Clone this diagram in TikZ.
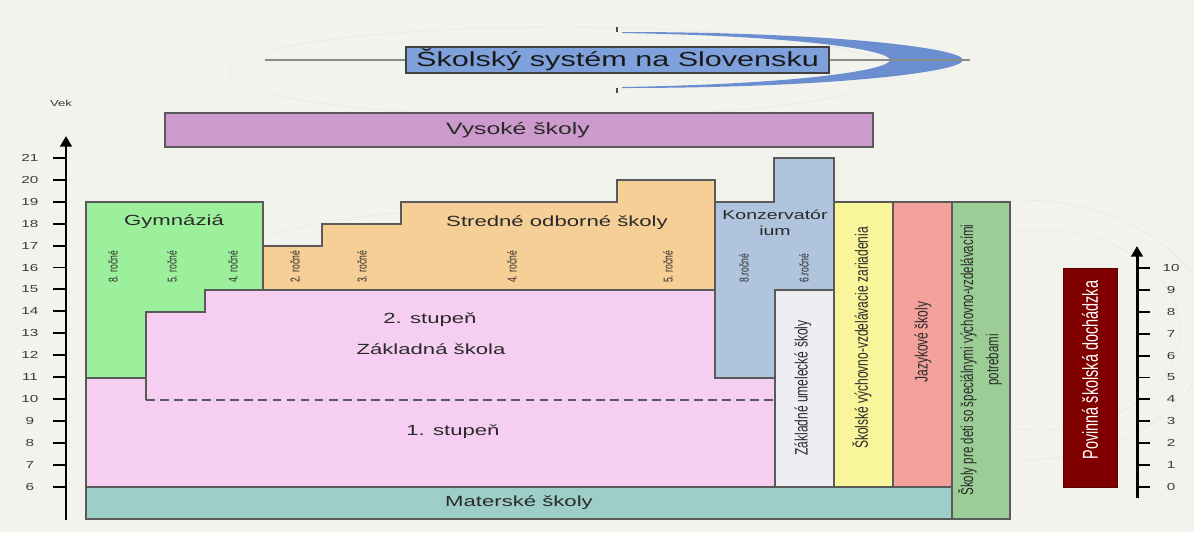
\documentclass[tikz,border=0pt]{standalone}
\usepackage{fontspec}
\setmainfont{Liberation Sans}
\newfontfamily\narrowfont[FakeStretch=0.67]{Liberation Sans}
\newfontfamily\widefont[FakeStretch=1.5]{Liberation Sans}
\usetikzlibrary{arrows.meta}
\definecolor{bgc}{HTML}{F3F3EE}
\definecolor{arcc}{HTML}{EBEAE4}
\definecolor{swc}{HTML}{6A8ECF}
\definecolor{titc}{HTML}{7FA1DB}
\definecolor{linec}{HTML}{8A8A86}
\definecolor{bordc}{HTML}{5A5A5A}
\definecolor{txtc}{HTML}{2A2A2A}
\definecolor{numc}{HTML}{3A3A3A}
\definecolor{vysc}{HTML}{CC9ACC}
\definecolor{gymc}{HTML}{9DF09B}
\definecolor{strc}{HTML}{F6CF96}
\definecolor{konc}{HTML}{B0C4DE}
\definecolor{zakc}{HTML}{F5CEF2}
\definecolor{matc}{HTML}{9ECEC8}
\definecolor{zusc}{HTML}{EDEDF2}
\definecolor{skoc}{HTML}{F9F59B}
\definecolor{jazc}{HTML}{F4A19C}
\definecolor{spec}{HTML}{9CCD96}
\definecolor{povc}{HTML}{800000}
\begin{document}
\begin{tikzpicture}[x=0.02cm,y=-0.02cm,
  box/.style={draw=bordc, line width=0.6pt},
  lbl/.style={font=\widefont\fontsize{8.4}{10}\selectfont, text=txtc, inner sep=0pt},
  vlbl/.style={rotate=90, font=\narrowfont\fontsize{10.2}{14}\selectfont, text=txtc, inner sep=0pt, align=center},
  rlbl/.style={rotate=90, font=\narrowfont\fontsize{7.3}{8}\selectfont, text=txtc, inner sep=0pt},
  tickln/.style={line width=1.1pt, draw=black},
  axisln/.style={line width=1.7pt, draw=black, -{Triangle[width=6.5pt,length=6pt]}},
  num/.style={font=\widefont\fontsize{5.8}{7}\selectfont, text=numc, inner sep=0pt},
]
\useasboundingbox (0,0) rectangle (1194,532);
\fill[bgc] (0,0) rectangle (1194,532);
% faint background arcs
\begin{scope}[draw=arcc, line width=0.5pt]
\draw (560,72) ellipse (330 and 45);
\draw (470,330) ellipse (330 and 120);
\draw (480,330) ellipse (260 and 90);
\draw (1020,330) ellipse (190 and 130);
\draw (1040,330) ellipse (140 and 100);
\end{scope}
% title
\fill[swc] (622,32) .. controls (830,32) and (963,48) .. (963,60)
  .. controls (963,72) and (830,88) .. (622,88) -- (622,87)
  .. controls (800,84) and (890,70) .. (890,60)
  .. controls (890,50) and (800,36) .. (622,33) -- cycle;
\coordinate (lineL) at (265,60);
\coordinate (lineR) at (970,60);
\draw[linec, line width=0.8pt] (lineL) -- (lineR);
\coordinate (tk1a) at (617,27); \coordinate (tk1b) at (617,32);
\coordinate (tk2a) at (617,88); \coordinate (tk2b) at (617,93);
\draw[line width=0.7pt, black!70] (tk1a) -- (tk1b);
\draw[line width=0.7pt, black!70] (tk2a) -- (tk2b);
\draw[line width=0.6pt, draw=black!75, fill=titc] (406,47) rectangle (829,73);
\node[inner sep=0pt, text=black!90, font=\widefont\fontsize{11.6}{14}\selectfont] (title) at (617.5,60) {Školský systém na Slovensku};
% Vysoke skoly
\draw[box, fill=vysc] (165,113) rectangle (873,147);
\node[inner sep=0pt, text=txtc, font=\widefont\fontsize{9.4}{11}\selectfont] (vys) at (518,130) {Vysoké školy};
% Zakladna skola (fill only)
\fill[zakc] (86,378) -- (146,378) -- (146,312) -- (205,312) -- (205,290) -- (715,290) -- (715,378) -- (775,378) -- (775,487) -- (86,487) -- cycle;
\draw[box] (86,378) -- (86,487);
\draw[box] (146,378) -- (146,400);
\draw[box, dash pattern=on 5pt off 3pt] (146,400) -- (775,400);
\draw[box, dash pattern=on 2.5pt off 1.5pt, line width=0.5pt] (775,378) -- (775,487);
\node[lbl] (stup2) at (430,320) {2. stupeň};
\node[lbl] (zak) at (431,349) {Základná škola};
\node[lbl] (stup1) at (453,432) {1. stupeň};
% Gymnazia
\draw[box, fill=gymc] (86,202) -- (263,202) -- (263,290) -- (205,290) -- (205,312) -- (146,312) -- (146,378) -- (86,378) -- cycle;
\node[lbl] (gym) at (174,222) {Gymnáziá};
\node[rlbl] (g8) at (113,267) {8. ročné};
\node[rlbl] (g5) at (172,267) {5. ročné};
\node[rlbl] (g4) at (233,267) {4. ročné};
% Stredne odborne skoly
\draw[box, fill=strc] (263,246) -- (322,246) -- (322,224) -- (401,224) -- (401,202) -- (617,202) -- (617,180) -- (715,180) -- (715,290) -- (263,290) -- cycle;
\node[lbl] (sos) at (557,223) {Stredné odborné školy};
\node[rlbl] (s2) at (295,267) {2. ročné};
\node[rlbl] (s3) at (362,267) {3. ročné};
\node[rlbl] (s4) at (512,267) {4. ročné};
\node[rlbl] (s5) at (668,267) {5. ročné};
% Konzervatorium
\draw[box, fill=konc] (715,202) -- (774,202) -- (774,158) -- (834,158) -- (834,290) -- (775,290) -- (775,378) -- (715,378) -- cycle;
\node[inner sep=0pt, text=txtc, align=center, font=\widefont\fontsize{7.4}{9}\selectfont] (konz) at (775,223) {Konzervatór\\ium};
\node[rlbl] (k8) at (744,268) {8.ročné};
\node[rlbl] (k6) at (804,268) {6.ročné};
% Materske skoly
\draw[box, fill=matc] (86,487) rectangle (952,519);
\node[lbl] (mat) at (519,503) {Materské školy};
% columns
\draw[box, fill=zusc] (775,290) rectangle (834,487);
\node[vlbl] (zus) at (803,388) {Základné umelecké školy};
\draw[box, fill=skoc] (834,202) rectangle (893,487);
\node[vlbl] (sko) at (862,338) {Školské výchovno-vzdelávacie zariadenia};
\draw[box, fill=jazc] (893,202) rectangle (952,487);
\node[vlbl] (jaz) at (923,342) {Jazykové školy};
\draw[box, fill=spec] (952,202) rectangle (1010,519);
\node[vlbl, font=\narrowfont\fontsize{9.8}{14.5}\selectfont] (spc) at (980,360) {Školy pre deti so špeciálnymi výchovno-vzdelávacími\\potrebami};
% Povinna skolska dochadzka
\draw[line width=0.5pt, draw=povc!70!black, fill=povc] (1063,268) rectangle (1117,487);
\node[rotate=90, inner sep=0pt, text=white, font=\narrowfont\fontsize{12.3}{14}\selectfont] (pov) at (1090,370) {Povinná školská dochádzka};
% left axis
\node[inner sep=0pt, text=numc, font=\widefont\fontsize{5}{6}\selectfont] (vek) at (61,103) {Vek};
\coordinate (axL0) at (66,520);
\coordinate (axL1) at (66,136);
\draw[axisln] (axL0) -- (axL1);
\foreach \a in {6,...,21} {
  \coordinate (lt\a) at (53,{487-(\a-6)*21.95});
  \coordinate (lte\a) at (66,{487-(\a-6)*21.95});
  \draw[tickln] (lt\a) -- (lte\a);
  \node[num] (ln\a) at (30,{487-(\a-6)*21.95}) {\a};
}
% right axis
\coordinate (axR0) at (1137,498);
\coordinate (axR1) at (1137,246);
\draw[axisln] (axR0) -- (axR1);
\foreach \k in {0,...,10} {
  \coordinate (rt\k) at (1137,{487-\k*21.9});
  \coordinate (rte\k) at (1150,{487-\k*21.9});
  \draw[tickln] (rt\k) -- (rte\k);
  \node[num] (rn\k) at (1171,{487-\k*21.9}) {\k};
}
\end{tikzpicture}
\end{document}
